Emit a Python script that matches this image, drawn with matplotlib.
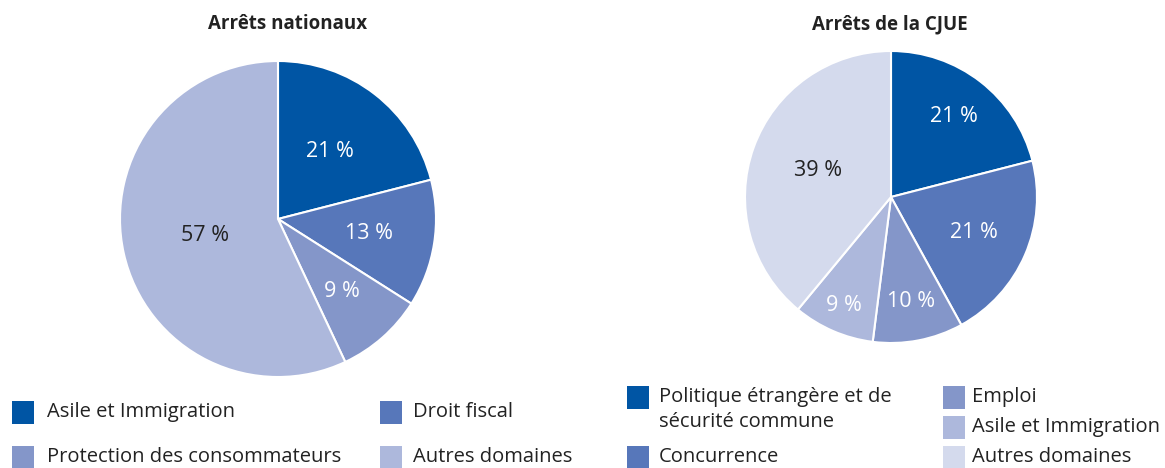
import matplotlib
matplotlib.use("Agg")
import matplotlib.pyplot as plt
from matplotlib.patches import Rectangle
import numpy as np

plt.rcParams['font.family'] = ['Open Sans', 'DejaVu Sans']

# Data
left_title = "Arrêts nationaux"
left_labels = ["Asile et Immigration", "Droit fiscal",
               "Protection des consommateurs", "Autres domaines"]
left_values = [21, 13, 9, 57]

right_title = "Arrêts de la CJUE"
right_labels = ["Politique étrangère et de\nsécurité commune", "Concurrence",
                "Emploi", "Asile et Immigration", "Autres domaines"]
right_values = [21, 21, 10, 9, 39]

# Styles
c1, c2, c3, c4, c5 = "#0055a4", "#5777ba", "#8496c9", "#adb8dc", "#d4daed"
left_colors = [c1, c2, c3, c4]
right_colors = [c1, c2, c3, c4, c5]
left_txtcol = ["white", "white", "white", "#222222"]
right_txtcol = ["white", "white", "white", "white", "#222222"]
left_pctdist = [0.54, 0.58, 0.61, 0.47]
right_pctdist = [0.70, 0.62, 0.73, 0.81, 0.53]

W, H = 1165, 468
fig = plt.figure(figsize=(W / 100, H / 100), dpi=100)
TXT = "#222222"
FS = 14.5


def draw_pie(cx, cy, r, values, colors, txtcols, dists, title, title_x):
    ax = fig.add_axes([(cx - r) / W, 1 - (cy + r) / H, 2 * r / W, 2 * r / H])
    wedges, _ = ax.pie(values, colors=colors, startangle=90, counterclock=False,
                       wedgeprops=dict(edgecolor="white", linewidth=1.5))
    ax.set_xlim(-1, 1)
    ax.set_ylim(-1, 1)
    ax.set_aspect("equal")
    for w, v, tc, d in zip(wedges, values, txtcols, dists):
        ang = np.deg2rad((w.theta1 + w.theta2) / 2)
        ax.text(d * np.cos(ang), d * np.sin(ang), f"{v} %", ha="center", va="center",
                color=tc, fontsize=15.5)
    fig.text(title_x / W, 1 - 24 / H, title, ha="center", va="center",
             fontsize=13.5, fontweight="bold", color=TXT)
    return ax


draw_pie(278, 219, 158, left_values, left_colors, left_txtcol, left_pctdist, left_title, 288)
draw_pie(891, 197, 146, right_values, right_colors, right_txtcol, right_pctdist, right_title, 890)


def square(x, yc, color):
    s = 22
    fig.patches.append(Rectangle((x / W, 1 - (yc + 11.5) / H), s / W, 23 / H,
                                 transform=fig.transFigure, facecolor=color,
                                 edgecolor="none"))


def legend_item(x, y, color, label, tx):
    square(x, y, color)
    fig.text(tx / W, 1 - y / H, label, ha="left", va="center",
             fontsize=FS, color=TXT)


# left legend
left_pos = [(12, 412, 47), (380, 412, 413), (12, 457, 47), (380, 457, 413)]
for (x, y, tx), col, lab in zip(left_pos, left_colors, left_labels):
    legend_item(x, y, col, lab, tx)

# right legend
right_pos = [(627, 397, 659), (627, 457, 659), (943, 397, 972), (943, 427, 972), (943, 457, 972)]
for (x, y, tx), col, lab in zip(right_pos, right_colors, right_labels):
    if "\n" in lab:
        square(x, y, col)
        first, second = lab.split("\n")
        fig.text(tx / W, 1 - y / H, first, ha="left", va="center", fontsize=FS, color=TXT)
        fig.text(tx / W, 1 - (y + 25) / H, second, ha="left", va="center", fontsize=FS, color=TXT)
    else:
        legend_item(x, y, col, lab, tx)

fig.savefig("out.png", dpi=100, facecolor="white")
